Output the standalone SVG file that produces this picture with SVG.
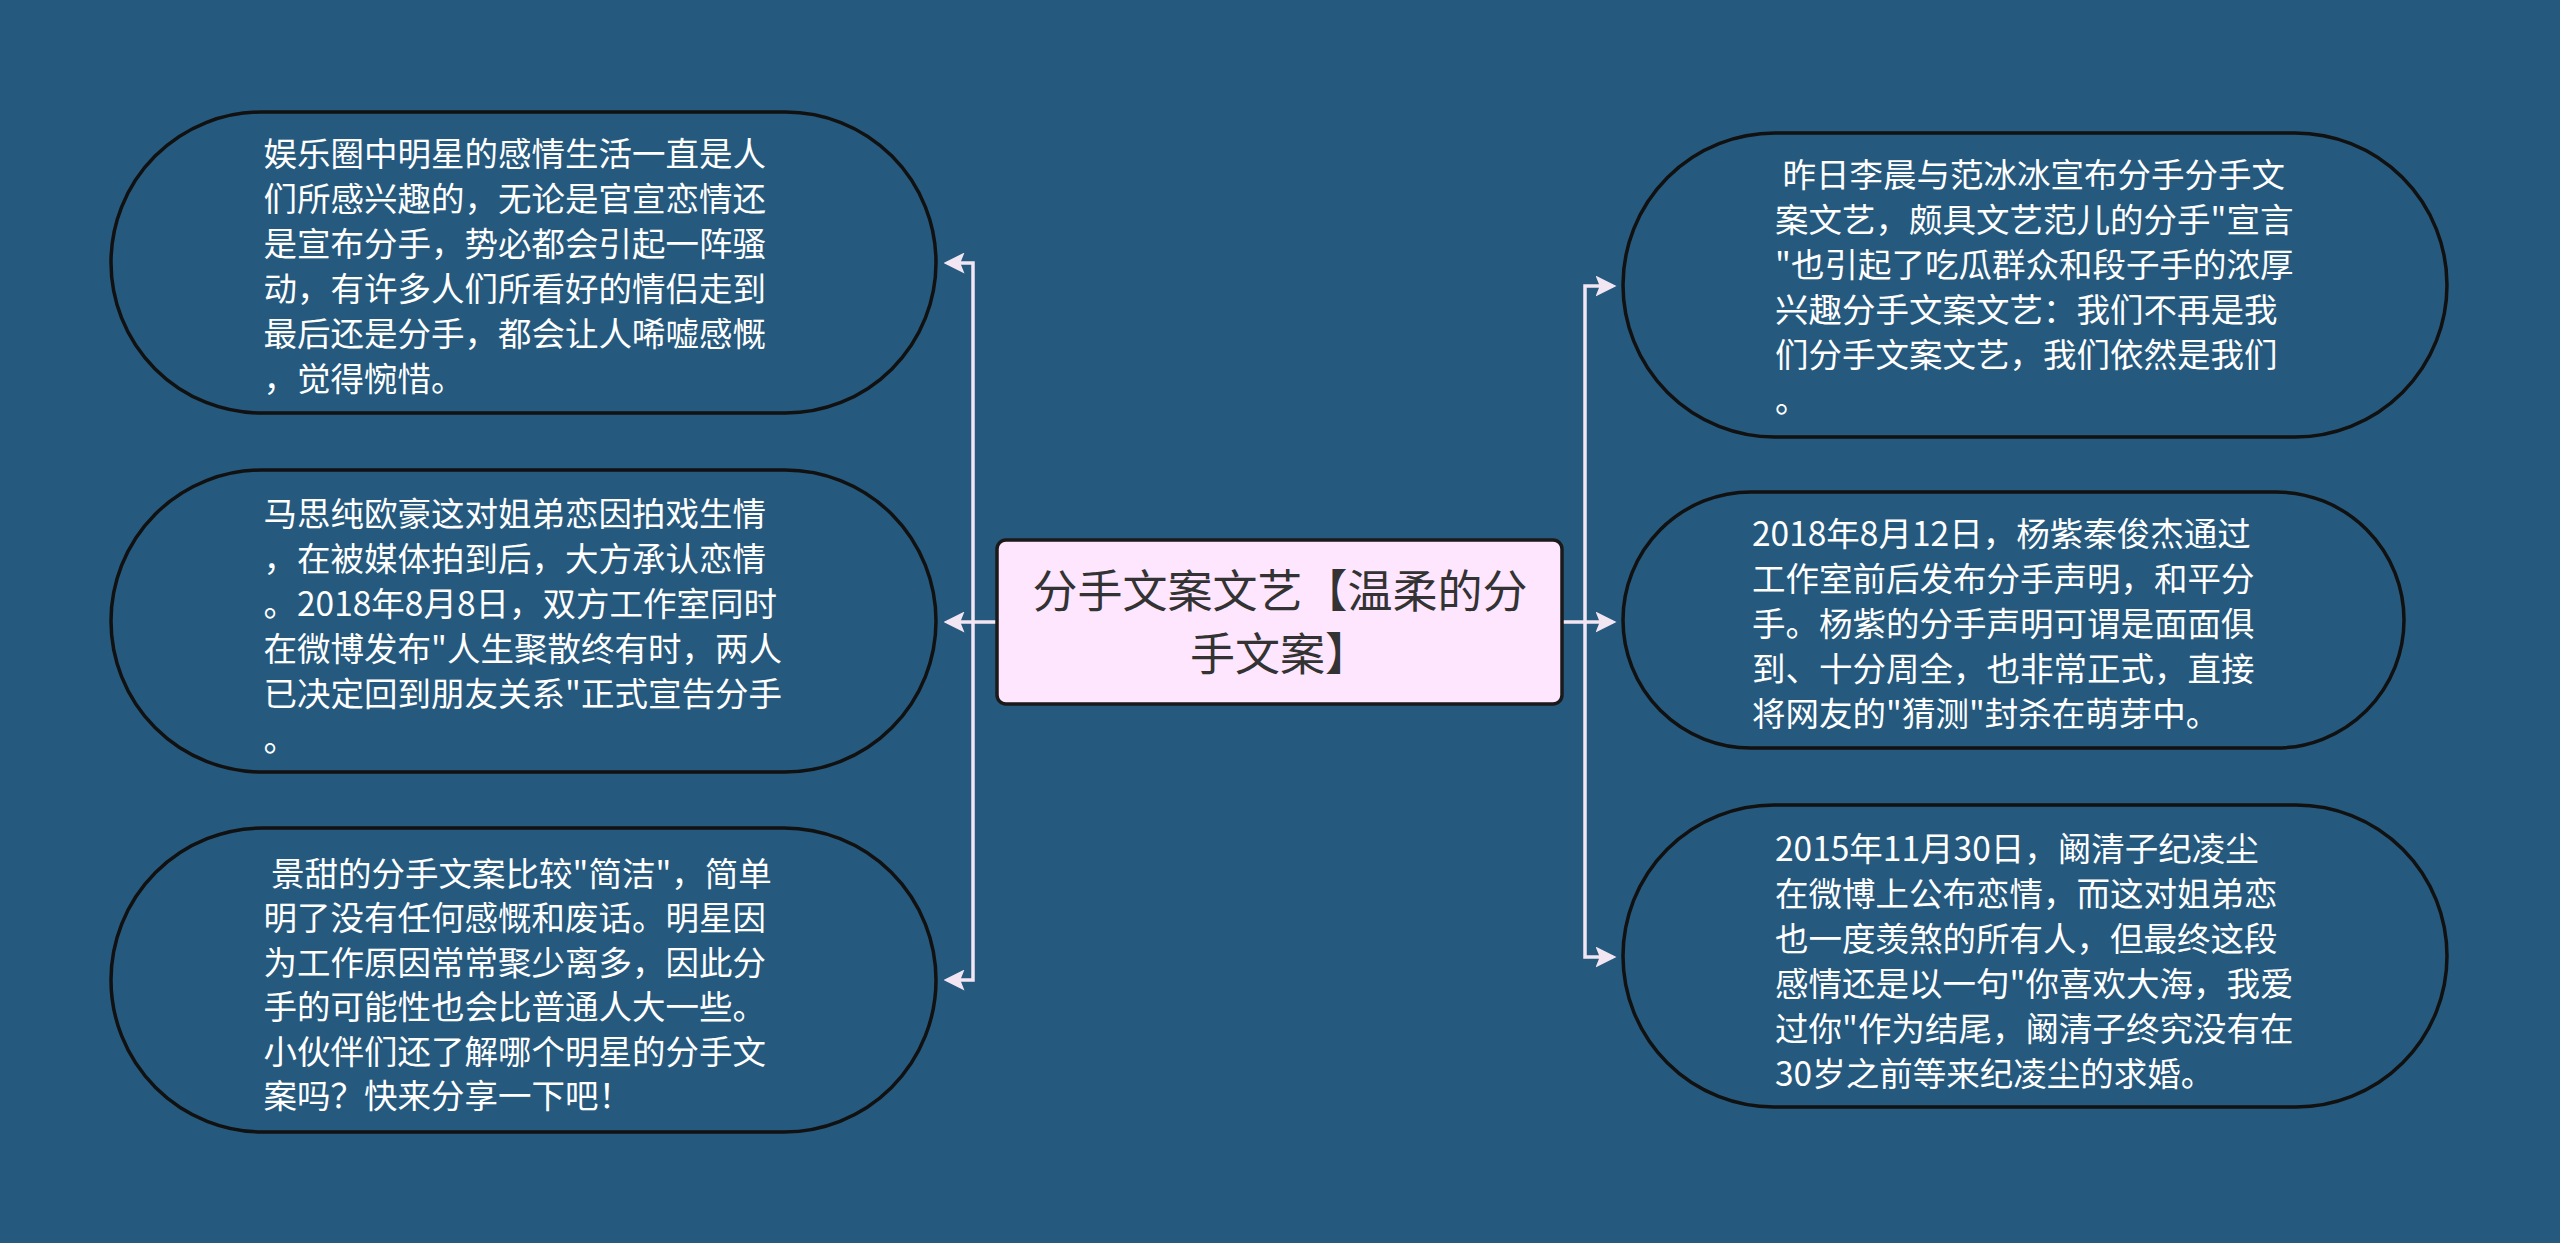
<svg xmlns="http://www.w3.org/2000/svg" width="2560" height="1243" viewBox="0 0 2560 1243">
<style>
.bg{fill:#255a7e}
.node{fill:#255a7e;stroke:#111;stroke-width:3.5}
.root{fill:#ffe6ff;stroke:#1a1a1a;stroke-width:3.5}
.t{font-family:"Noto Sans CJK SC","Noto Sans",sans-serif;font-size:33.5px;fill:#ffffff;white-space:pre}
.rt{font-family:"Noto Sans CJK SC","Noto Sans",sans-serif;font-size:45px;fill:#333333;text-anchor:middle}
.c{fill:none;stroke:#f3e6f3;stroke-width:3.5}
</style>
<defs>
<marker id="ah" markerWidth="6" markerHeight="6" refX="5" refY="3" orient="auto" markerUnits="strokeWidth">
<path d="M0,0 L6,3 L0,6 L1.2,3 Z" fill="#f3e6f3"/>
</marker>
</defs>
<rect class="bg" x="0" y="0" width="2560" height="1243"/>
<g id="connectors">
<path class="c" d="M996,622 H973 V263 H947" marker-end="url(#ah)"/>
<path class="c" d="M973,622 H947" marker-end="url(#ah)"/>
<path class="c" d="M973,622 V980 H947" marker-end="url(#ah)"/>
<path class="c" d="M1562,622 H1585 V286 H1613" marker-end="url(#ah)"/>
<path class="c" d="M1585,622 H1613" marker-end="url(#ah)"/>
<path class="c" d="M1585,622 V957 H1613" marker-end="url(#ah)"/>
</g>
<g id="root">
<rect class="root" x="997" y="540" width="565" height="164" rx="9"/>
<text class="rt" x="1280" y="608">分手文案文艺【温柔的分</text>
<text class="rt" x="1280" y="671">手文案】</text>
</g>
<g id="left1">
<rect class="node" x="111" y="112" width="825" height="301" rx="150.5"/>
<text class="t" x="263.5" y="166">娱乐圈中明星的感情生活一直是人</text>
<text class="t" x="263.5" y="211">们所感兴趣的，无论是官宣恋情还</text>
<text class="t" x="263.5" y="256">是宣布分手，势必都会引起一阵骚</text>
<text class="t" x="263.5" y="301">动，有许多人们所看好的情侣走到</text>
<text class="t" x="263.5" y="346">最后还是分手，都会让人唏嘘感慨</text>
<text class="t" x="263.5" y="391">，觉得惋惜。</text>
</g>
<g id="left2">
<rect class="node" x="111" y="470" width="825" height="302" rx="151"/>
<text class="t" x="263.5" y="526">马思纯欧豪这对姐弟恋因拍戏生情</text>
<text class="t" x="263.5" y="571">，在被媒体拍到后，大方承认恋情</text>
<text class="t" x="263.5" y="616">。2018年8月8日，双方工作室同时</text>
<text class="t" x="263.5" y="661">在微博发布"人生聚散终有时，两人</text>
<text class="t" x="263.5" y="706">已决定回到朋友关系"正式宣告分手</text>
<text class="t" x="263.5" y="751">。</text>
</g>
<g id="left3">
<rect class="node" x="111" y="828" width="825" height="304" rx="152"/>
<text class="t" x="263.5" y="886"> 景甜的分手文案比较"简洁"，简单</text>
<text class="t" x="263.5" y="930">明了没有任何感慨和废话。明星因</text>
<text class="t" x="263.5" y="975">为工作原因常常聚少离多，因此分</text>
<text class="t" x="263.5" y="1019">手的可能性也会比普通人大一些。</text>
<text class="t" x="263.5" y="1064">小伙伴们还了解哪个明星的分手文</text>
<text class="t" x="263.5" y="1108">案吗？快来分享一下吧！</text>
</g>
<g id="right1">
<rect class="node" x="1623" y="133" width="824" height="304" rx="152"/>
<text class="t" x="1775" y="187"> 昨日李晨与范冰冰宣布分手分手文</text>
<text class="t" x="1775" y="232">案文艺，颇具文艺范儿的分手"宣言</text>
<text class="t" x="1775" y="277">"也引起了吃瓜群众和段子手的浓厚</text>
<text class="t" x="1775" y="322">兴趣分手文案文艺：我们不再是我</text>
<text class="t" x="1775" y="367">们分手文案文艺，我们依然是我们</text>
<text class="t" x="1775" y="412">。</text>
</g>
<g id="right2">
<rect class="node" x="1623" y="492" width="781" height="256" rx="128"/>
<text class="t" x="1752" y="546">2018年8月12日，杨紫秦俊杰通过</text>
<text class="t" x="1752" y="591">工作室前后发布分手声明，和平分</text>
<text class="t" x="1752" y="636">手。杨紫的分手声明可谓是面面俱</text>
<text class="t" x="1752" y="681">到、十分周全，也非常正式，直接</text>
<text class="t" x="1752" y="726">将网友的"猜测"封杀在萌芽中。</text>
</g>
<g id="right3">
<rect class="node" x="1623" y="805" width="824" height="302" rx="151"/>
<text class="t" x="1775" y="861">2015年11月30日，阚清子纪凌尘</text>
<text class="t" x="1775" y="906">在微博上公布恋情，而这对姐弟恋</text>
<text class="t" x="1775" y="951">也一度羡煞的所有人，但最终这段</text>
<text class="t" x="1775" y="996">感情还是以一句"你喜欢大海，我爱</text>
<text class="t" x="1775" y="1041">过你"作为结尾，阚清子终究没有在</text>
<text class="t" x="1775" y="1086">30岁之前等来纪凌尘的求婚。</text>
</g>
</svg>
